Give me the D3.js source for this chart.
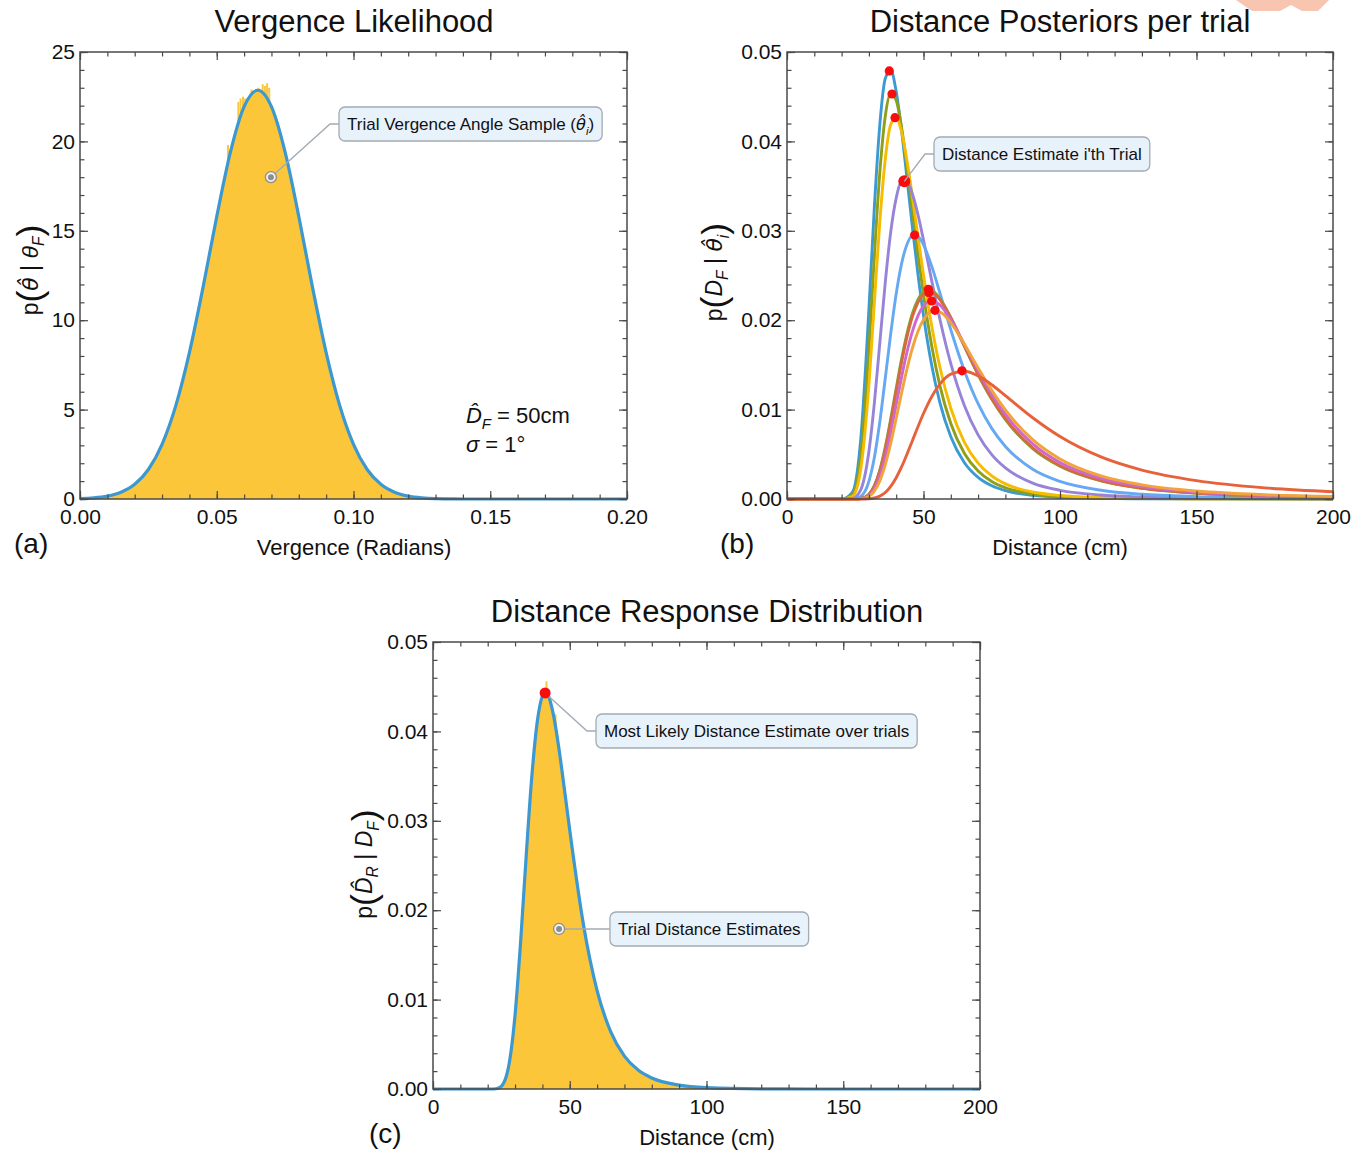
<!DOCTYPE html>
<html lang="en">
<head>
<meta charset="UTF-8">
<title>Vergence likelihood and distance posteriors</title>
<script src="https://cdnjs.cloudflare.com/ajax/libs/d3/7.8.5/d3.min.js"></script>
<style>
  body { margin: 0; background: #fff; }
  svg text { font-family: "Liberation Sans", Arial, sans-serif; fill: #111; }
</style>
</head>
<body>
<svg id="chart" width="1361" height="1150"></svg>
<script>
// ---------- panel (a): vergence likelihood ----------
const vergence = [0, 0.005, 0.01, 0.015, 0.02, 0.025, 0.03, 0.035, 0.04, 0.045, 0.05, 0.055, 0.06, 0.065,
  0.07, 0.075, 0.08, 0.085, 0.09, 0.095, 0.1, 0.105, 0.11, 0.115, 0.12, 0.125, 0.13, 0.135, 0.14, 0.15,
  0.16, 0.17, 0.18, 0.19, 0.2];
const vergenceLik = [0.02, 0.06, 0.16, 0.38, 0.82, 1.65, 3.06, 5.21, 8.19, 11.85, 15.8, 19.4, 21.94, 22.86,
  21.94, 19.4, 15.8, 11.85, 8.19, 5.21, 3.06, 1.65, 0.82, 0.38, 0.16, 0.06, 0.02, 0.01, 0, 0,
  0, 0, 0, 0, 0];
// histogram bins that stick out above the fitted curve near the peak
const vergenceSpikeX = [0.0541, 0.0579, 0.0587, 0.0596, 0.0604, 0.0627, 0.0652, 0.0668, 0.0676, 0.0684, 0.0692];
const vergenceSpikeY = [19.8, 22.2, 22.4, 22.5, 22.4, 22.9, 23.0, 23.2, 23.1, 23.25, 23.0];
const vergenceTicks = [0, 0.05, 0.1, 0.15, 0.2];
const likTicks = [0, 5, 10, 15, 20, 25];

// ---------- panel (b): distance posteriors per trial ----------
const distGrid = [0, 20, 24, 27, 30, 32, 34, 36, 38, 40, 42, 44, 46, 48, 50, 53, 56, 60, 65, 70, 75, 80,
  90, 100, 115, 130, 150, 175, 200];
const postTeal = [0, 0, .00078, .00665, .02119, .03265, .04187, .04703, .04796, .04557, .04113, .03574, .03023,
  .02507, .02052, .01495, .01079, .00696, .00406, .00242, .00148, .00093, .0004, .00019, .00007, .00003, .00001, 0, 0];
const postOlive = [0, 0, .0005, .00477, .01672, .02718, .03655, .04283, .04536, .04459, .0415, .03709, .03217,
  .02732, .02284, .01714, .01269, .00845, .0051, .00313, .00196, .00126, .00056, .00027, .00011, .00005, .00002, .00001, 0];
const postYellow = [0, 0, .0003, .00329, .01275, .02194, .03102, .038, .04188, .04268, .04102, .03776, .03366,
  .02929, .02506, .01939, .01476, .01015, .00634, .00401, .00258, .00169, .00078, .00039, .00016, .00007, .00003, .00001, .00001];
const postPurple = [0, 0, .00007, .00103, .00532, .01073, .01747, .02424, .02988, .03366, .03544, .03544, .03406,
  .03177, .02896, .02443, .0201, .01513, .01043, .00717, .00496, .00347, .00178, .00097, .00044, .00022, .0001, .00005, .00002];
const postSky = [0, 0, .00001, .00029, .00198, .00464, .00864, .01351, .01851, .02296, .02636, .02852, .02946,
  .02935, .02843, .02605, .02306, .01893, .01433, .01066, .0079, .00588, .00333, .00197, .00098, .00053, .00027, .00013, .00007];
const postGreen = [0, 0, 0, .00006, .00054, .0015, .00324, .0058, .00897, .01239, .0157, .01856, .0208,
  .02232, .02316, .02329, .02241, .02029, .01706, .0139, .01115, .00888, .00564, .00366, .00202, .00119, .00065, .00034, .0002];
const postBrick = [0, 0, 0, .00006, .00051, .00143, .00311, .0056, .00869, .01206, .01533, .01819, .02045,
  .02201, .02289, .0231, .0223, .02027, .01711, .01399, .01125, .00898, .00573, .00373, .00207, .00122, .00067, .00035, .00021];
const postMagenta = [0, 0, 0, .00004, .0004, .00115, .00256, .00471, .00748, .01058, .01369, .0165, .01881,
  .02052, .0216, .02216, .02171, .02008, .01727, .01435, .0117, .00946, .00616, .00407, .0023, .00138, .00076, .00041, .00024];
const postOrange = [0, 0, 0, .00003, .00029, .00088, .00203, .00384, .00624, .00902, .01191, .01462, .01695,
  .01877, .02004, .02096, .02089, .01971, .01732, .01466, .01215, .00996, .00664, .00448, .00258, .00158, .00089, .00048, .00029];
const postRed = [0, 0, 0, 0, .00003, .00011, .00032, .00073, .00141, .00238, .00361, .00505, .00658,
  .00811, .00956, .01144, .01285, .01396, .01429, .01377, .01278, .01156, .00909, .00699, .00471, .00324, .00206, .00125, .00081];
const peakDist = [37.47, 38.46, 39.56, 42.97, 46.75, 51.79, 52.0, 53.0, 54.2, 64.1];
const peakProb = [.04788, .0453, .04265, .03553, .02953, .02345, .02307, .02215, .0211, .01434];
const curveColors = ["#3c9ad3", "#8f9f17", "#f6bc00", "#9783d8", "#66a9f2", "#77a935", "#d8693c", "#cd68cd", "#f2a33a", "#e7623a"];

// ---------- panel (c): distance response distribution ----------
const respDist = [0, 20, 22, 24, 26, 28, 30, 32, 34, 36, 38, 40, 41, 42, 44, 46, 48, 50, 55, 60, 65, 70,
  75, 80, 90, 100, 120, 140, 200];
const respProb = [0, 0, 0, .000104, .000764, .0031, .008263, .016298, .025725, .034464, .040795, .04396, .04438,
  .044117, .041905, .03817, .033648, .02894, .018412, .01101, .00639, .003676, .002116, .001226, .000426,
  .000154, .000023, 0, 0];
const respSpikeX = [41.5, 44.8];
const respSpikeY = [.0456, .0419];
const distTicks = [0, 50, 100, 150, 200];
const probTicks = [0, .01, .02, .03, .04, .05];

const svg = d3.select("#chart");
const frameColor = "#4a4a4a";
const fillColor = "#fcc63b";
const lineBlue = "#3b98d1";

// watermark corner fragment at the top right
svg.append("polygon")
  .attr("points", "1236,0 1329,0 1318,11 1302,11 1291,5 1280,11 1252,11")
  .attr("fill", "#f8c6b0");

function panel(box, xDomain, yDomain, xTicks, yTicks, xMinorStep, yMinorStep, xFmt, yFmt) {
  const x = d3.scaleLinear().domain(xDomain).range([box.left, box.right]);
  const y = d3.scaleLinear().domain(yDomain).range([box.bottom, box.top]);
  const g = svg.append("g");
  const xMinor = d3.range(xDomain[0], xDomain[1] + 1e-9, xMinorStep);
  const yMinor = d3.range(yDomain[0], yDomain[1] + 1e-9, yMinorStep);

  const axes = svg.append("g").attr("class", "axes");
  const addAxis = (axis, tx, ty) => {
    const a = axes.append("g").attr("transform", `translate(${tx},${ty})`).call(axis);
    a.select(".domain").remove();
    a.selectAll("line").attr("stroke", frameColor).attr("stroke-width", 1.2);
    a.selectAll("text").attr("font-size", 21).attr("fill", "#111")
      .attr("font-family", '"Liberation Sans", Arial, sans-serif');
  };
  addAxis(d3.axisBottom(x).tickValues(xMinor).tickSize(-4.5).tickFormat(""), 0, box.bottom);
  addAxis(d3.axisBottom(x).tickValues(xTicks).tickSize(-8).tickPadding(10).tickFormat(xFmt), 0, box.bottom);
  addAxis(d3.axisTop(x).tickValues(xMinor).tickSize(-4.5).tickFormat(""), 0, box.top);
  addAxis(d3.axisTop(x).tickValues(xTicks).tickSize(-8).tickFormat(""), 0, box.top);
  addAxis(d3.axisLeft(y).tickValues(yMinor).tickSize(-4.5).tickFormat(""), box.left, 0);
  addAxis(d3.axisLeft(y).tickValues(yTicks).tickSize(-8).tickPadding(5).tickFormat(yFmt), box.left, 0);
  addAxis(d3.axisRight(y).tickValues(yMinor).tickSize(-4.5).tickFormat(""), box.right, 0);
  addAxis(d3.axisRight(y).tickValues(yTicks).tickSize(-8).tickFormat(""), box.right, 0);

  axes.append("rect")
    .attr("x", box.left).attr("y", box.top)
    .attr("width", box.right - box.left).attr("height", box.bottom - box.top)
    .attr("fill", "none").attr("stroke", frameColor).attr("stroke-width", 1.5);
  return { x, y, g, axes };
}

// rich text: parts = [{t, it, sub, big, hat, after, dx}]
function richText(sel, parts, size) {
  parts.forEach(p => {
    const ts = sel.append("tspan").text(p.hat ? p.t + "\u0302" : p.t);
    if (p.it) ts.attr("font-style", "italic");
    if (p.hat) ts.attr("font-family", '"DejaVu Sans", sans-serif').attr("font-size", size * 0.95);
    if (p.sub) ts.attr("font-size", size * 0.68).attr("dy", size * 0.28);
    if (p.after !== undefined) ts.attr("dy", p.after);
    if (p.big) ts.attr("font-size", size * 1.55).attr("dy", p.bigDy || 0);
    if (p.dx) ts.attr("dx", p.dx);
  });
}

function yLabel(cx, cy, parts) {
  const t = svg.append("text")
    .attr("transform", `translate(${cx},${cy}) rotate(-90)`)
    .attr("text-anchor", "middle").attr("font-size", 23);
  richText(t, parts, 23);
}

function title(cx, yb, txt) {
  svg.append("text").attr("x", cx).attr("y", yb).attr("text-anchor", "middle")
    .attr("font-size", 31).text(txt);
}

function callout(x0, yTop, parts, target, marker) {
  const g = svg.append("g");
  const h = 34;
  const t = g.append("text").attr("x", x0 + 8).attr("y", yTop + h / 2 + 6).attr("font-size", 17);
  richText(t, parts, 17);
  const w = t.node().getComputedTextLength() + 16;
  const midY = yTop + h / 2;
  g.insert("path", "text")
    .attr("d", `M${x0},${midY} L${x0 - 9},${midY} L${target[0]},${target[1]}`)
    .attr("fill", "none").attr("stroke", "#a3abb3").attr("stroke-width", 1.4);
  g.insert("rect", "text")
    .attr("x", x0).attr("y", yTop).attr("width", w).attr("height", h)
    .attr("rx", 6).attr("fill", "#e8f2fb").attr("stroke", "#a3abb3").attr("stroke-width", 1.3);
  if (marker) {
    g.append("circle").attr("cx", target[0]).attr("cy", target[1]).attr("r", 5.5)
      .attr("fill", "#f2f2f2").attr("stroke", "#8d8d8d").attr("stroke-width", 1.3);
    g.append("circle").attr("cx", target[0]).attr("cy", target[1]).attr("r", 3)
      .attr("fill", "#8d8d8d");
  }
}

// ===== panel (a) =====
const A = panel({ left: 80, right: 627, top: 52, bottom: 499 }, [0, 0.2], [0, 25],
  vergenceTicks, likTicks, 0.01, 1, d3.format(".2f"), d3.format("d"));
const ptsA = vergence.map((v, i) => [v, vergenceLik[i]]);
A.g.append("path").datum(ptsA)
  .attr("d", d3.area().x(d => A.x(d[0])).y0(A.y(0)).y1(d => A.y(d[1])).curve(d3.curveMonotoneX))
  .attr("fill", fillColor);
A.g.selectAll("rect.spike").data(vergenceSpikeX).join("rect").attr("class", "spike")
  .attr("x", d => A.x(d) - 1).attr("width", 2)
  .attr("y", (d, i) => A.y(vergenceSpikeY[i])).attr("height", (d, i) => A.y(0) - A.y(vergenceSpikeY[i]))
  .attr("fill", fillColor);
A.g.append("path").datum(ptsA)
  .attr("d", d3.line().x(d => A.x(d[0])).y(d => A.y(d[1])).curve(d3.curveMonotoneX))
  .attr("fill", "none").attr("stroke", lineBlue).attr("stroke-width", 3.2);

title(354, 32, "Vergence Likelihood");
svg.append("text").attr("x", 354).attr("y", 555).attr("text-anchor", "middle")
  .attr("font-size", 22).text("Vergence (Radians)");
svg.append("text").attr("x", 14).attr("y", 553).attr("font-size", 28).text("(a)");
yLabel(38, 270, [{ t: "p" }, { t: "(", big: true, bigDy: 4 }, { t: "θ", it: true, after: -4, hat: true },
  { t: "  |  " }, { t: "θ", it: true }, { t: "F", it: true, sub: true }, { t: ")", big: true, bigDy: -2 }]);

const noteA = svg.append("text").attr("x", A.x(0.1411)).attr("y", 423).attr("font-size", 22);
richText(noteA, [{ t: "D\u0302", it: true }, { t: "F", it: true, sub: true }, { t: " = 50cm", after: -6 }], 22);
const noteB = svg.append("text").attr("x", A.x(0.1411)).attr("y", 452).attr("font-size", 22);
richText(noteB, [{ t: "σ", it: true }, { t: " = 1" }, { t: "°", after: 0 }], 22);

callout(A.x(0.0947), 107, [{ t: "Trial Vergence Angle Sample (" }, { t: "θ", it: true, hat: true },
  { t: "i", it: true, sub: true }, { t: ")", after: -5 }],
  [A.x(0.0698), A.y(18.0)], true);

// ===== panel (b) =====
const B = panel({ left: 787, right: 1333, top: 52, bottom: 499 }, [0, 200], [0, 0.05],
  distTicks, probTicks, 10, 0.002, d3.format("d"), d3.format(".2f"));
const posteriors = [postTeal, postOlive, postYellow, postPurple, postSky, postGreen, postBrick, postMagenta, postOrange, postRed];
const lineB = d3.line().x(d => B.x(d[0])).y(d => B.y(d[1])).curve(d3.curveMonotoneX);
B.g.selectAll("path.post").data(posteriors).join("path").attr("class", "post")
  .attr("d", d => lineB(distGrid.map((v, i) => [v, d[i]])))
  .attr("fill", "none").attr("stroke", (d, i) => curveColors[i]).attr("stroke-width", 2.9);
B.g.selectAll("circle.peak").data(peakDist).join("circle").attr("class", "peak")
  .attr("cx", d => B.x(d)).attr("cy", (d, i) => B.y(peakProb[i]))
  .attr("r", (d, i) => i === 3 ? 6 : 4.6).attr("fill", "#f70d0d");

title(1060, 32, "Distance Posteriors per trial");
svg.append("text").attr("x", 1060).attr("y", 555).attr("text-anchor", "middle")
  .attr("font-size", 22).text("Distance (cm)");
svg.append("text").attr("x", 720).attr("y", 553).attr("font-size", 28).text("(b)");
yLabel(722, 272, [{ t: "p" }, { t: "(", big: true, bigDy: 4 }, { t: "D", it: true, after: -4 }, { t: "F", it: true, sub: true },
  { t: "  |  ", after: -6 }, { t: "θ", it: true, hat: true }, { t: "i", it: true, sub: true }, { t: ")", big: true, bigDy: -2 }]);

callout(934, 137, [{ t: "Distance Estimate i'th Trial" }], [B.x(peakDist[3]), B.y(peakProb[3])], false);

// ===== panel (c) =====
const C = panel({ left: 433, right: 980, top: 642, bottom: 1089 }, [0, 200], [0, 0.05],
  distTicks, probTicks, 10, 0.002, d3.format("d"), d3.format(".2f"));
const ptsC = respDist.map((v, i) => [v, respProb[i]]);
C.g.append("path").datum(ptsC)
  .attr("d", d3.area().x(d => C.x(d[0])).y0(C.y(0)).y1(d => C.y(d[1])).curve(d3.curveMonotoneX))
  .attr("fill", fillColor);
C.g.selectAll("rect.spike").data(respSpikeX).join("rect").attr("class", "spike")
  .attr("x", d => C.x(d) - 1).attr("width", 2)
  .attr("y", (d, i) => C.y(respSpikeY[i])).attr("height", (d, i) => C.y(0) - C.y(respSpikeY[i]))
  .attr("fill", fillColor);
C.g.append("path").datum(ptsC)
  .attr("d", d3.line().x(d => C.x(d[0])).y(d => C.y(d[1])).curve(d3.curveMonotoneX))
  .attr("fill", "none").attr("stroke", lineBlue).attr("stroke-width", 3.2);

title(707, 622, "Distance Response Distribution");
svg.append("text").attr("x", 707).attr("y", 1145).attr("text-anchor", "middle")
  .attr("font-size", 22).text("Distance (cm)");
svg.append("text").attr("x", 369).attr("y", 1143).attr("font-size", 28).text("(c)");
yLabel(372, 864, [{ t: "p" }, { t: "(", big: true, bigDy: 4 }, { t: "D\u0302", it: true, after: -4 }, { t: "R", it: true, sub: true },
  { t: "  |  ", after: -6 }, { t: "D", it: true }, { t: "F", it: true, sub: true }, { t: ")", big: true, bigDy: -2 }]);

callout(C.x(59.6), 714, [{ t: "Most Likely Distance Estimate over trials" }], [C.x(41), C.y(0.0443)], false);
svg.append("circle").attr("cx", C.x(41)).attr("cy", C.y(0.0443)).attr("r", 5.5).attr("fill", "#f70d0d");
callout(C.x(64.7), 912, [{ t: "Trial Distance Estimates" }], [C.x(46.1), C.y(0.0179)], true);
</script>
</body>
</html>
